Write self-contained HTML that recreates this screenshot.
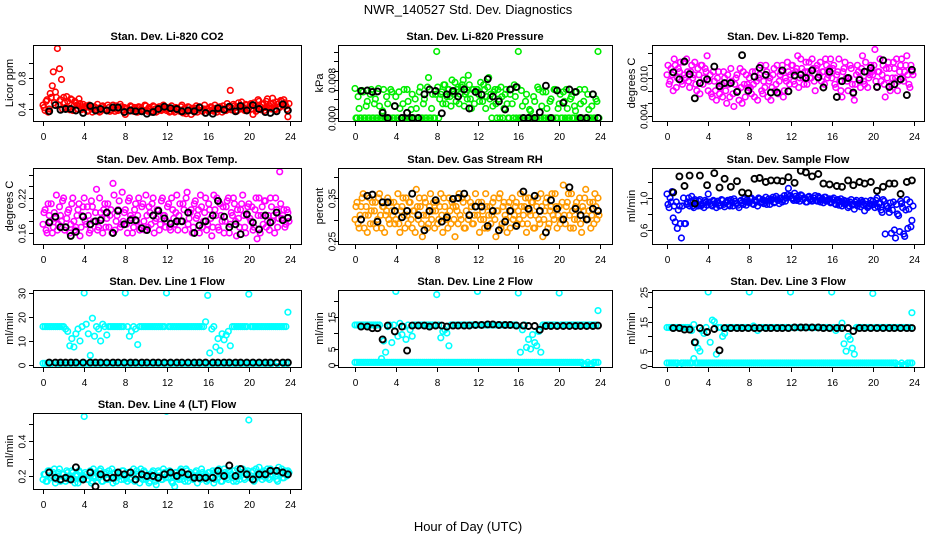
<!DOCTYPE html>
<html><head><meta charset="utf-8">
<style>
html,body{margin:0;padding:0;background:#fff;}
svg{display:block;font-family:"Liberation Sans",Arial,sans-serif;}
</style></head>
<body>
<svg id="chart" width="936" height="540" viewBox="0 0 936 540" xmlns="http://www.w3.org/2000/svg">
<rect x="0" y="0" width="936" height="540" fill="#fff"/>
<text x="468" y="14" font-size="13" text-anchor="middle">NWR_140527  Std. Dev. Diagnostics</text>
<text x="468" y="531" font-size="13" text-anchor="middle">Hour of Day (UTC)</text>
</svg>
<script>
// ---- shared hour arrays ----
const colorHours = Array.from({length:120},(_,i)=>i*0.2);
const colorHoursB = Array.from({length:120},(_,i)=>i*0.2+0.1);
const blackHours = [0.6,1.2,1.7,2.2,2.7,3.2,3.9,4.6,5.1,5.6,6.2,6.8,7.3,7.9,8.5,9.0,9.6,10.1,10.7,11.2,11.8,12.4,13.0,13.5,14.1,14.7,15.2,15.8,16.5,17.0,17.6,18.1,18.7,19.2,19.8,20.4,21.0,21.6,22.1,22.7,23.3,23.8];
const xTicks = [0,4,8,12,16,20,24];

// ---- CO2 (x0.01 ppm) ----
const co2Values = [45,38,52,40,55,88,62,118,92,78,55,42,50,39,52,44,48,40,47,43,
40,44,38,42,36,43,39,41,37,44,40,38,42,39,45,37,41,40,43,38,
33,41,38,43,37,40,36,42,39,38,44,37,40,38,43,36,41,39,42,40,
38,42,37,40,36,41,39,43,35,40,37,42,33,39,41,36,43,38,40,35,
40,38,42,37,41,39,43,36,40,38,42,64,39,44,37,48,40,43,38,45,
41,47,33,44,40,50,39,46,42,53,44,40,48,39,46,42,50,52,44,30];
const co2ValuesB = [42,50,36,60,70,48,55,45,52,40,48,56,41,53,38,50,45,53,39,46,
43,37,45,40,42,38,46,36,43,40,39,45,37,42,40,44,38,46,39,42,
41,37,44,39,42,36,43,40,38,45,39,42,36,44,40,37,43,38,45,41,
40,36,44,38,42,39,37,45,40,34,43,38,41,36,44,39,42,37,45,40,
37,43,39,45,36,42,40,44,38,47,41,39,46,42,38,44,49,41,46,39,
45,40,48,37,52,43,46,38,50,42,47,54,40,49,43,51,45,48,40,47];
const co2Black = [37,45,39,40,40,38,35,44,38,40,38,42,42,36,38,37,37,34,36,40,43,41,40,37,38,37,42,35,34,41,39,43,37,44,38,45,40,36,35,37,46,38];
const co2Ticks = [40,60,80,100];
const co2TickLabels = ["0.4","","0.8",""];

// ---- Pressure (x0.001 kPa) ----
const pressValues = [6.2,0,2,0,5.5,0,3.5,0,6,0,
4,0,2.5,0,6,0,3,0,5.5,0,
4.5,0,2,0,6,0,3.5,0,5,0,2,0,6.5,0,4,0,8.5,0,5,0,
14,0,5,3,7,4.5,6,2.5,5.5,7.5,6,3,6.5,8,5,4,7,2,6,5.5,
6,3.5,5,7,2,6.5,4,0,5.5,3,6,0,4.5,2,6,0,5,3,7,0,
14,0,2.5,0,5,0,1.5,0,3.5,0,6,0,5.5,0,2,0,4,0,6,0,
3,0,5.5,0,2,0,4.5,0,1.5,0,6,0,3.5,0,5,0,2.5,0,4,14];
const pressValuesB = [0,4.5,0,5.8,0,2.5,0,5,0,3,0,6.2,0,1.5,0,4.5,0,6,0,2.5,
0,5.5,0,3,0,6,0,1.8,0,4,0,5.5,0,3,0,6.5,0,2,0,5,
6.5,4,5.5,7,3,6,4.5,8,5,3.5,6.5,5,7,2.5,5.5,9,4,6,3,6,
5,7.5,3.5,6,4.5,8.5,5,2.5,6,0,4,6.5,0,5,3,0,6,0,4.5,6.5,
0,5.8,0,3.5,0,1.8,0,4.5,0,6.5,0,2.5,0,5.5,0,3.5,0,6,0,2,
5,0,3.5,6,0,4,0,2.5,5.5,0,3,0,6,0,1.8,0,5,0,3.5,0];
const pressBlack = [5.7,5.8,5.5,5.6,1.1,0,2.5,0,1.1,0,0,5,6,5.7,1.0,5.0,5.7,4.5,6,2,5.5,4.9,8.2,4.5,3.5,1.8,6,6.5,0,0,0,1.2,6.8,0,5.8,3.2,6,5.5,0,0,5,0];
const pressTicks = [0,2,4,6,8,10,12,14];
const pressTickLabels = ["0.000","","","","0.008","","",""];

// ---- Li-820 Temp (x0.001 C) ----
const tempValues = [10.5,9,11.5,8,12,10,11,9.5,12.5,10,11,8.5,12,10.5,9,11.5,7.5,12,10,11,
8,10.5,7,9.5,6.5,11,8.5,7,10,6,9,11.5,7.5,9,10.5,6.5,8.5,11,7,9,
10,7.5,9,11,6.5,10.5,8,9.5,12,7,10,8.5,11.5,9,7.5,10.5,12,8,9.5,11,
10.5,12,9,11.5,8.5,13,10,11,9,12.5,10,11.5,8,12,10.5,9.5,11,13,10,11.5,
10,12,8.5,11,9.5,7,11.5,10,8,12,9,6.5,10.5,11,8.5,13.5,9,11,10,12,
10.5,14.5,8.5,11,9.5,12,7,10,11.5,9,12.5,10,8,11,13,9.5,12,10.5,8.5,11];
const tempValuesB = [12,9.5,10.5,13,8.5,11.5,12.5,9,10.5,13,9.5,11,10,12.5,8,10.5,12,9,11.5,13.5,
9.5,7.5,11,8,10,7.5,9,11,8,10.5,7,9.5,5.5,10,8,11.5,6,9,10.5,8.5,
8.5,11,7,9.5,10,12,7.5,8.5,11,9.5,6.5,10.5,8,12,9.5,11,7,10,12.5,9,
12,9.5,11,13.5,10,11.5,9,12.5,11,10,13,9.5,11.5,10,12.5,11,9,12,10.5,13,
11.5,9,10.5,13,8,11,12.5,9.5,10,11.5,7.5,9,12,10,11.5,9.5,12.5,8.5,10.5,11,
12,9.5,11,13,10.5,9,11.5,12.5,8,10,11.5,13,9.5,12,10,11,13.5,9,12,10.5];
const tempBlack = [10.9,9.8,12.6,10.6,6.8,9.2,9.8,11.8,8.7,9.2,9.2,7.8,13.6,8,10.2,11.6,10.5,7.7,7.7,11.2,7.9,10.4,10.5,10,11.2,10.1,8.5,11,7,9.5,10,7.7,9.7,11,11.6,8.6,12.8,8.6,9,9.8,7.3,11.3];
const tempTicks = [4,6,8,10,12,14];
const tempTickLabels = ["0.004","","","0.010","",""];

// ---- Amb Box Temp (x0.01 C) ----
const ambValues = [17.5,20,16,19,21,17,18.5,16.5,20.5,18,22,17,19.5,16,21,18,17,20,15.5,19,
22,17.5,19,16.5,20.5,18,23.5,17,19.5,16,21,18.5,17,20,24.5,16.5,19,21.5,17.5,18,
20,16,22,18.5,17,21,19,16.5,20.5,18,22.5,17,19.5,21,16,18.5,20,17.5,22,19,
18,21,16.5,20,17.5,22.5,19,18,21,16.5,23,18.5,20,17,21.5,19,16,20.5,18,22,
17.5,20,15.5,22.5,19,17,21,18,16,20.5,22,17.5,19,21,15.5,18.5,20,22.5,17,19,
21,18,16.5,20,15,22,19,17.5,21.5,18,16.5,20.5,19,22,17,26.5,18.5,20,17.5,19.5];
const ambValuesB = [19.5,16.5,21,18,16,19.5,22.5,17.5,19,21.5,16.5,18.5,20,17.5,22,16.5,19,21,17,20.5,
18,20.5,16,21.5,18,19.5,16.5,22,18.5,20,17,21,19,16,22.5,18,20,17,23,19.5,
17.5,21.5,19,16,20,18,22,17,21,16.5,19,20.5,17.5,22,18,20,16.5,21.5,19,17,
20.5,17,22,18.5,19.5,16.5,21,18,20,22,17.5,19.5,16,21,18.5,20,22.5,17,19.5,16.5,
21,18.5,17,20,22,16.5,19,20.5,18,21.5,16,19.5,22,18,20,17,21,19,16,20.5,
18.5,20.5,17,22,19,16,20.5,21.5,17,19,22,18,16,20,18.5,21,19,17,20,18];
const ambBlack = [17.8,18.8,17,17,15.5,16.2,18.8,17.5,18,18.2,19.5,16,19.8,17.5,18.2,18.2,16.8,16.5,19,19.8,18.5,17.6,18,18,19.5,16,17.3,18,19,21.5,18.8,17,17.5,15.8,19.2,17.8,16.6,19,17.8,19.5,18.2,18.6];
const ambTicks = [16,18,20,22,24,26];
const ambTickLabels = ["0.16","","","0.22","",""];

// ---- Gas Stream RH (x0.01 %) ----
const rhValues = [30,34,28,33,36,31,27,35,32,29,34,30,36,28,33,31,35,29,32,34,
30,36,27,33,31,35,29,34,28,32,37,30,33,26,35,31,29,36,32,28,
34,30,36,27,33,31,35,29,33,26,32,36,30,34,28,35,31,33,29,36,
31,27,34,30,36,28,33,31,35,26,32,36,29,34,30,33,28,35,31,34,
32,36,29,33,27,35,31,34,28,33,30,36,26,32,35,29,33,31,36,28,
33,30,38,29,34,31,36,28,33,30,35,27,32,37,30,34,31,29,33,35];
const rhValuesB = [33,29,31,35,28,33,31,29,34,32,28,35,31,33,27,32,30,34,31,29,
33,29,32,35,28,31,34,30,32,27,33,35,29,31,34,28,33,30,34,32,
29,33,31,35,30,28,32,34,30,33,29,31,35,28,32,30,34,29,31,33,
34,30,32,28,33,31,29,34,30,32,35,28,33,31,27,34,32,30,33,29,
30,33,31,35,29,32,34,28,31,35,29,33,30,34,28,32,36,30,33,31,
29,34,31,33,36,28,32,30,34,32,29,33,35,30,32,28,34,36,30,31];
const rhBlack = [30,35.5,35.8,29.5,34,34,32,30.5,32,36,31,27.5,32,34.5,29.5,30.5,34.8,35,36,31,33,33,28.5,32,27.5,29.5,32,28.5,36.5,32.5,35.5,32,27,34.5,32.5,30,37.5,32.5,31,30,32.5,32];
const rhTicks = [25,30,35,40];
const rhTickLabels = ["0.25","","0.35",""];

// ---- Sample Flow (x0.01 ml/min) ----
const flowValues = [105,88,95,75,70,62,90,50,100,68,95,90,102,88,96,90,98,92,88,95,
105,93,90,96,88,94,91,97,89,95,92,98,90,96,93,88,97,92,95,98,
94,100,92,97,90,99,95,93,101,96,92,98,94,102,97,99,95,103,100,112,
103,99,106,97,101,104,98,100,95,102,99,97,103,96,100,98,94,101,97,99,
95,100,92,98,96,90,97,93,88,95,91,86,97,93,89,95,84,92,90,97,
96,88,100,93,85,98,55,90,82,56,95,50,80,58,93,55,85,62,95,72];
const flowValuesB = [92,100,108,90,95,85,68,90,68,92,100,94,90,98,92,96,90,94,97,91,
95,91,97,93,96,90,98,92,94,97,90,95,99,93,91,96,94,99,91,95,
99,93,97,95,100,94,98,96,92,99,97,101,95,99,93,100,98,96,104,102,
100,97,102,99,96,103,100,95,101,98,96,100,97,102,95,99,101,96,98,94,
98,93,97,91,99,94,92,96,90,98,93,95,90,94,97,91,96,88,93,91,
92,97,89,94,82,96,90,87,94,85,60,92,78,96,88,52,98,86,64,90];
const flowBlack = [107,127,115,128,93,128,116,131,113,124,114,121,107,106,124,125,120,122,122,121,126,119,134,132,127,130,118,117,115,114,122,116,120,118,120,109,114,118,118,105,120,122];
const flowTicks = [60,80,100,120];
const flowTickLabels = ["0.6","","1.0",""];

// ---- Line 1 Flow ----
const line1Upper = [16,16,16,16,16,16,16,16,16,16,
16,15,14,8,11,7.5,13,15,10,16,
30,17,13,4,19.5,12,16,15,10,17,
16,12.5,16,16,16,16,16,16,16,16,
30,16,12,14,16,15,8.5,16,16,16,
16,16,16,16,16,16,16,16,16,16,
30,16,16,16,16,16,16,16,16,16,
16,16,16,16,16,16,16,16,16,18,
29,5,15,16,7.5,11,6,13,10.5,12.5,
14,8,16,16,16,16,16,16,16,16,
29.5,16,16,16,16,16,16,16,16,16,
16,16,16,16,16,16,16,16,16,22];
const line1Lower = [0.7,0.7,0.7,0.7,0.7,-0.5,-0.5,0.7,0.7,0.7,0.7,0.7,0.7,0.7,0.7,0.7,0.7,0.7,0.7,0.7,
0.7,0.7,0.7,0.7,0.7,0.7,0.7,0.7,0.7,0.7,0.7,0.7,0.7,0.7,0.7,0.7,0.7,0.7,0.7,0.7,
0.7,0.7,0.7,0.7,0.7,0.7,0.7,0.7,0.7,0.7,0.7,0.7,0.7,0.7,0.7,0.7,0.7,0.7,0.7,0.7,
0.7,0.7,0.7,0.7,0.7,0.7,0.7,0.7,0.7,0.7,0.7,0.7,0.7,0.7,0.7,0.7,0.7,0.7,0.7,0.7,
0.7,0.7,0.7,0.7,0.7,0.7,0.7,0.7,0.7,0.7,0.7,0.7,0.7,0.7,0.7,0.7,0.7,0.7,0.7,0.7,
0.7,0.7,0.7,0.7,0.7,0.7,0.7,0.7,0.7,0.7,0.7,0.7,-0.5,-0.5,0.7,-0.5,-0.5,0.7,0.7,0.7];
const line1Black = [1,1,1,1,1,1,1,1,1,1,1,1,1,1,1,1,1,1,1,1,1,1,1,1,1,1,1,1,1,1,1,1,1,1,1,1,1,1,1,1,1,1];
const line1Ticks = [0,10,20,30];
const line1TickLabels = ["0","10","20","30"];

// ---- Line 2 Flow ----
const line2Upper = [12.5,12.5,12.5,12.5,12.5,12.5,12.5,12.5,12.5,12.5,
12.5,12.5,12.5,2,7.5,4,12,12.5,7,12.5,
23,9,13,9.5,12,8,12.5,11,9,12.5,
12.5,12.5,12.5,12.5,12.5,12.5,12.5,12.5,12.5,12.5,
22,12.5,8.5,10.5,11,10,6,12.5,12.5,12.5,
12.5,12.5,12.5,12.5,12.5,12.5,12.5,12.5,12.5,12.5,
23,12.5,12.5,12.5,12.5,12.5,12.5,12.5,12.5,12.5,
12.5,12.5,12.5,12.5,12.5,12.5,12.5,12.5,12.5,12.5,
22.5,4,11,12.5,5.5,8,5,9.5,7,6,
10.5,4,12.5,12.5,12.5,12.5,12.5,12.5,12.5,12.5,
22.5,12.5,12.5,12.5,12.5,12.5,12.5,12.5,12.5,12.5,
12.5,12.5,12.5,12.5,12.5,12.5,12.5,12.5,12.5,17];
const line2Lower = [0.8,0.8,0.8,0.8,0.8,0.8,0.8,0.8,0.8,0.8,0.8,0.8,0.8,0.8,0.8,0.8,0.8,0.8,0.8,0.8,
0.8,0.8,0.8,0.8,0.8,0.8,0.8,0.8,0.8,0.8,0.8,0.8,0.8,0.8,0.8,0.8,0.8,0.8,0.8,0.8,
0.8,0.8,0.8,0.8,0.8,0.8,0.8,0.8,0.8,0.8,0.8,0.8,0.8,0.8,0.8,0.8,0.8,0.8,0.8,0.8,
0.8,0.8,0.8,0.8,0.8,0.8,0.8,0.8,0.8,0.8,0.8,0.8,0.8,0.8,0.8,0.8,0.8,0.8,0.8,0.8,
0.8,0.8,0.8,0.8,0.8,0.8,0.8,0.8,0.8,0.8,0.8,0.8,0.8,0.8,0.8,0.8,0.8,0.8,0.8,0.8,
0.8,0.8,0.8,0.8,0.8,0.8,0.8,0.8,0.8,0.8,0.8,0.8,0.2,0.2,0.8,0.2,0.2,0.8,0.8,0.8];
const line2Black = [12,12,11.5,11.5,8,12.3,10.5,12,4.5,12.3,12.3,12.3,12,12.3,12.3,12,12.3,12.3,12.3,12.3,12.5,12.5,12.7,12.7,12.5,12.5,12.5,12.3,12.3,12.2,12.2,11,12.2,12.2,12.2,12.2,12.2,12.2,12.2,12.2,12.2,12.3];
const line2Ticks = [0,5,10,15,20];
const line2TickLabels = ["0","5","","15",""];

// ---- Line 3 Flow ----
const line3Upper = [13,13,13,13,13,13,13,13,13,13,
13,13,12,14,8,6,5,12,11,13,
25,8,15.5,15,4,13,13,10,11,13,
13,13,13,13,13,13,13,13,13,13,
25,13,13.5,13,12,13,13,13,13,13,
13,13,13,13,13,13,13,13,13,13,
25,13,13,13,13,13,13,13,13,13,
13,13,13,13,13,13,13,13,13,13,
25,13,12,13,13,14.5,7.5,5,10,9,
6,4,13,13,13,13,13,13,13,13,
24.5,13,13,13,13,13,13,13,13,13,
13,13,13,13,13,13,13,13,13,18];
const line3Lower = [1,1,1,1,1,1,0.3,1,1,1,1,1,1,2.5,1,1,1,1,1,1,
1,1,1,1,1,1,1,1,1,1,1,1,1,1,1,1,1,1,1,1,
1,1,1,1,1,1,1,1,1,1,1,1,1,1,1,1,1,1,1,1,
1,1,1,1,1,1,1,1,1,1,1,1,1,1,1,1,1,1,1,1,
1,1,1,1,1,1,1,1,1,1,1,1,1,1,1,1,1,1,1,1,
1,1,1,1,1,1,1,1,1,1,1,1,0.3,0.3,1,0.3,0.3,1,1,1];
const line3Black = [12.8,12.8,12.3,12.3,8,12.8,11.5,12.5,5.3,12.8,12.8,12.8,12.8,12.8,12.8,12.8,12.8,12.8,12.8,12.8,12.8,13,13,13,13,13,12.8,12.8,12.8,12.8,12.8,11.8,12.8,12.8,12.8,12.8,12.8,12.8,12.8,12.8,12.8,12.8];
const line3Ticks = [0,5,10,15,20,25];
const line3TickLabels = ["0","5","","15","","25"];

// ---- Line 4 (LT) Flow (x0.01 ml/min) ----
const line4Values = [18,21,17,23,19,22,16,20,24,18,21,17,22,19,23,18,20,16,22,19,
54,21,18,23,17,20,22,19,24,17,21,18,23,20,16,22,19,21,18,23,
20,17,22,19,24,18,21,16,20,23,18,21,17,22,19,15,23,20,18,22,
57,19,21,16,14,22,18,24,20,17,23,19,21,18,22,16,20,24,19,21,
18,22,20,16,23,19,21,17,24,20,18,22,19,23,17,21,20,24,18,22,
52,19,23,18,21,25,20,22,19,24,18,21,23,20,17,22,24,19,21,23];
const line4ValuesB = [21,17,23,19,20,24,18,22,17,21,19,23,18,20,22,16,21,23,18,20,
22,18,20,16,24,19,21,23,17,20,22,18,21,24,19,17,22,20,23,18,
19,22,18,21,17,23,20,24,18,22,19,16,21,23,17,20,22,18,24,19,
21,23,17,20,22,19,23,18,21,24,17,22,19,20,23,21,18,22,20,17,
22,19,23,18,21,24,17,20,22,19,23,21,17,20,24,18,22,19,21,23,
19,22,17,24,20,22,18,23,21,19,24,20,22,18,25,21,19,23,20,22];
const line4Black = [22,19,18,19,18,25,18,22,14,21,19,19,22,21,22,18,21,20,20,19,21,22,20,22,21,19,19,19,19,23,20,26,20,24,21,18,21,21,23,23,22,21];
const line4Ticks = [20,30,40,50];
const line4TickLabels = ["0.2","","0.4",""];

// ---- layout ----
const svg = document.getElementById('chart');
const NS = 'http://www.w3.org/2000/svg';
const cols = [
  {bx0:33, bx1:301, h0:43, h24:290, ylabX:10, tickX:23},
  {bx0:338, bx1:612, h0:355, h24:600, ylabX:320, tickX:333},
  {bx0:652, bx1:924, h0:667, h24:914, ylabX:632, tickX:645}
];
const rows = [{top:45,bot:121},{top:168,bot:244},{top:290,bot:367},{top:413,bot:489}];

const panels = [
 {key:'co2',title:'Stan. Dev. Li-820 CO2',ylab:'Licor ppm',c:0,r:0,v0:40,p0:109,v1:80,p1:78,color:'#ff0000',series:[co2Values],seriesB:[co2ValuesB],black:co2Black,ticks:co2Ticks,labels:co2TickLabels},
 {key:'pressure',title:'Stan. Dev. Li-820 Pressure',ylab:'kPa',c:1,r:0,v0:0,p0:118,v1:8,p1:80,color:'#00ee00',series:[pressValues],seriesB:[pressValuesB],black:pressBlack,ticks:pressTicks,labels:pressTickLabels},
 {key:'temp',title:'Stan. Dev. Li-820 Temp.',ylab:'degrees C',c:2,r:0,v0:4,p0:116,v1:10,p1:78,color:'#ff00ff',series:[tempValues],seriesB:[tempValuesB],black:tempBlack,ticks:tempTicks,labels:tempTickLabels},
 {key:'ambbox',title:'Stan. Dev. Amb. Box Temp.',ylab:'degrees C',c:0,r:1,v0:16,p0:233,v1:22,p1:198,color:'#ff00ff',series:[ambValues],seriesB:[ambValuesB],black:ambBlack,ticks:ambTicks,labels:ambTickLabels},
 {key:'rh',title:'Stan. Dev. Gas Stream RH',ylab:'percent',c:1,r:1,v0:25,p0:241,v1:35,p1:198,color:'#ff9a00',series:[rhValues],seriesB:[rhValuesB],black:rhBlack,ticks:rhTicks,labels:rhTickLabels},
 {key:'sampleflow',title:'Stan. Dev. Sample Flow',ylab:'ml/min',c:2,r:1,v0:60,p0:230,v1:100,p1:198,color:'#0000ff',series:[flowValues],seriesB:[flowValuesB],black:flowBlack,ticks:flowTicks,labels:flowTickLabels},
 {key:'line1',title:'Stan. Dev. Line 1 Flow',ylab:'ml/min',c:0,r:2,v0:0,p0:365,v1:30,p1:293,color:'#00ffff',series:[line1Upper,line1Lower],seriesB:[],black:line1Black,ticks:line1Ticks,labels:line1TickLabels},
 {key:'line2',title:'Stan. Dev. Line 2 Flow',ylab:'ml/min',c:1,r:2,v0:0,p0:365,v1:15,p1:317,color:'#00ffff',series:[line2Upper,line2Lower],seriesB:[],black:line2Black,ticks:line2Ticks,labels:line2TickLabels},
 {key:'line3',title:'Stan. Dev. Line 3 Flow',ylab:'ml/min',c:2,r:2,v0:0,p0:366,v1:25,p1:292,color:'#00ffff',series:[line3Upper,line3Lower],seriesB:[],black:line3Black,ticks:line3Ticks,labels:line3TickLabels},
 {key:'line4',title:'Stan. Dev. Line 4 (LT) Flow',ylab:'ml/min',c:0,r:3,v0:20,p0:476,v1:40,p1:441,color:'#00ffff',series:[line4Values],seriesB:[line4ValuesB],black:line4Black,ticks:line4Ticks,labels:line4TickLabels}
];

function mk(tag, attrs, parent){
  const e=document.createElementNS(NS,tag);
  for(const k in attrs) e.setAttribute(k,attrs[k]);
  (parent||svg).appendChild(e);
  return e;
}

panels.forEach(p=>{
  const col=cols[p.c], row=rows[p.r];
  const xs=h=>col.h0+(h/24)*(col.h24-col.h0);
  const ys=v=>p.p0+(v-p.v0)*(p.p1-p.p0)/(p.v1-p.v0);
  const g=mk('g',{});
  
  
  const cp=mk('clipPath',{id:'clip-'+p.key},g);
  mk('rect',{x:col.bx0,y:row.top,width:col.bx1-col.bx0,height:row.bot-row.top},cp);
  const t=mk('text',{x:(col.bx0+col.bx1)/2,y:row.top-5,'font-size':11,'font-weight':'bold','text-anchor':'middle'},g);
  t.textContent=p.title;
  
  
  const yl=mk('text',{x:col.ylabX,y:(row.top+row.bot)/2,'font-size':11,'text-anchor':'middle',transform:`rotate(-90 ${col.ylabX} ${(row.top+row.bot)/2})`,'dominant-baseline':'central'},g);
  yl.textContent=p.ylab;
  
  
  const pts=mk('g',{'clip-path':`url(#clip-${p.key})`},g);
  
  
  const drawSet=(s,hours)=>{
    s.forEach((v,i)=>{
      const c=mk('circle',{cx:xs(hours[i]).toFixed(1),cy:ys(v).toFixed(1),r:2.8,fill:'none',stroke:p.color,'stroke-width':1.6},pts);
      
      
    });
  };
  p.series.forEach(s=>drawSet(s,colorHours));
  p.seriesB.forEach(s=>drawSet(s,colorHoursB));
  p.black.forEach((v,i)=>{
    const c=mk('circle',{cx:xs(blackHours[i]).toFixed(1),cy:ys(v).toFixed(1),r:3,fill:'none',stroke:'#000','stroke-width':1.9},pts);
    
    
  });
  const bx=mk('rect',{x:col.bx0+0.5,y:row.top+0.5,width:col.bx1-col.bx0,height:row.bot-row.top,fill:'none',stroke:'#000','stroke-width':1},g);
  
  
  p.ticks.forEach((tv,i)=>{
    const y=Math.round(ys(tv))+0.5;
    mk('line',{x1:col.bx0-4,x2:col.bx0,y1:y,y2:y,stroke:'#000'},g);
    if(p.labels[i]){
      const lx=col.tickX;
      const tl=mk('text',{x:lx,y:y,'font-size':10,'text-anchor':'middle','dominant-baseline':'central',transform:`rotate(-90 ${lx} ${y})`},g);
      tl.textContent=p.labels[i];
      
      
    }
  });
  xTicks.forEach(h=>{
    const x=Math.round(xs(h))+0.5;
    mk('line',{x1:x,x2:x,y1:row.bot,y2:row.bot+5,stroke:'#000'},g);
    const tl=mk('text',{x:x,y:row.bot+19,'font-size':10,'text-anchor':'middle'},g);
    tl.textContent=String(h);
    
    
  });
});
</script>
</body></html>
